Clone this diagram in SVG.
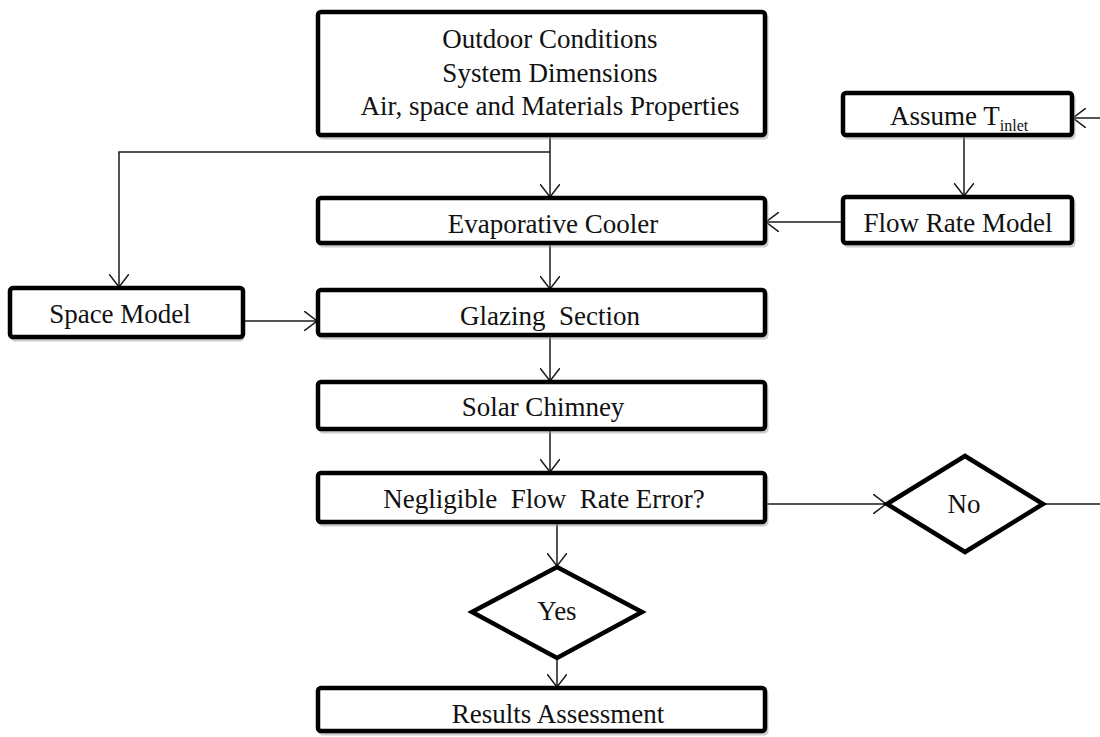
<svg xmlns="http://www.w3.org/2000/svg" width="1100" height="737" viewBox="0 0 1100 737">
  <style>
    .box { fill: #ffffff; stroke: #000000; stroke-width: 4.5; }
    .shadow { fill: none; stroke: #9a9a9a; stroke-width: 3; opacity: 0.5; }
    .lbl { font-family: "Liberation Serif", "Times New Roman", serif; font-size: 27px; fill: #111111; text-anchor: middle; }
    .sub { font-size: 16px; }
    .conn { fill: none; stroke: #1a1a1a; stroke-width: 1.5; }
  </style>
  <defs>
    <marker id="arr" viewBox="0 0 14 20" markerWidth="14" markerHeight="20" refX="13" refY="10" orient="auto" markerUnits="userSpaceOnUse">
      <path d="M0,0 L13,10 L0,20" fill="none" stroke="#1a1a1a" stroke-width="1.5"/>
    </marker>
  </defs>
  <rect width="1100" height="737" fill="#ffffff"/>

  <g id="connectors">
    <line class="conn" x1="550" y1="135" x2="550" y2="197" marker-end="url(#arr)"/>
    <path class="conn" d="M550,152 L119,152 L119,287" marker-end="url(#arr)"/>
    <line class="conn" x1="964" y1="135" x2="964" y2="196" marker-end="url(#arr)"/>
    <line class="conn" x1="843" y1="222" x2="766" y2="222" marker-end="url(#arr)"/>
    <line class="conn" x1="1100" y1="118" x2="1073" y2="118" marker-end="url(#arr)"/>
    <line class="conn" x1="550" y1="243" x2="550" y2="289" marker-end="url(#arr)"/>
    <line class="conn" x1="243" y1="321" x2="317" y2="321" marker-end="url(#arr)"/>
    <line class="conn" x1="550" y1="335" x2="550" y2="381" marker-end="url(#arr)"/>
    <line class="conn" x1="550" y1="429" x2="550" y2="472" marker-end="url(#arr)"/>
    <line class="conn" x1="557" y1="522" x2="557" y2="566" marker-end="url(#arr)"/>
    <line class="conn" x1="557" y1="658" x2="557" y2="687" marker-end="url(#arr)"/>
    <line class="conn" x1="765" y1="504" x2="886" y2="504" marker-end="url(#arr)"/>
    <line class="conn" x1="1043" y1="504" x2="1100" y2="504"/>
  </g>

  <g id="inputs">
    <rect class="shadow" x="320" y="15" width="447" height="123" rx="3"/>
    <rect class="box" x="318" y="12" width="447" height="123" rx="3"/>
    <text class="lbl" x="550" y="48">Outdoor Conditions</text>
    <text class="lbl" x="550" y="82">System Dimensions</text>
    <text class="lbl" x="550" y="115">Air, space and Materials Properties</text>
  </g>

  <g id="assume">
    <rect class="shadow" x="845" y="96" width="229" height="42" rx="3"/>
    <rect class="box" x="843" y="93" width="229" height="42" rx="3"/>
    <text class="lbl" x="890" y="125" style="text-anchor:start">Assume T<tspan class="sub" dy="6">inlet</tspan></text>
  </g>

  <g id="flowrate">
    <rect class="shadow" x="845" y="200" width="229" height="46" rx="3"/>
    <rect class="box" x="843" y="197" width="229" height="46" rx="3"/>
    <text class="lbl" x="958" y="232">Flow Rate Model</text>
  </g>

  <g id="evap">
    <rect class="shadow" x="320" y="201" width="447" height="45" rx="3"/>
    <rect class="box" x="318" y="198" width="447" height="45" rx="3"/>
    <text class="lbl" x="553" y="233">Evaporative Cooler</text>
  </g>

  <g id="space">
    <rect class="shadow" x="12" y="291" width="231" height="49" rx="3"/>
    <rect class="box" x="10" y="288" width="233" height="49" rx="3"/>
    <text class="lbl" x="120" y="323">Space Model</text>
  </g>

  <g id="glazing">
    <rect class="shadow" x="320" y="293" width="447" height="45" rx="3"/>
    <rect class="box" x="318" y="290" width="447" height="45" rx="3"/>
    <text class="lbl" x="550" y="325" xml:space="preserve">Glazing  Section</text>
  </g>

  <g id="chimney">
    <rect class="shadow" x="320" y="385" width="447" height="47" rx="3"/>
    <rect class="box" x="318" y="382" width="447" height="47" rx="3"/>
    <text class="lbl" x="543" y="416">Solar Chimney</text>
  </g>

  <g id="error">
    <rect class="shadow" x="320" y="476" width="447" height="49" rx="3"/>
    <rect class="box" x="318" y="473" width="447" height="49" rx="3"/>
    <text class="lbl" x="544" y="508" xml:space="preserve">Negligible  Flow  Rate Error?</text>
  </g>

  <g id="yes">
    <polygon class="box" points="472,612 557,567 642,612 557,658" stroke-linejoin="miter"/>
    <text class="lbl" x="557" y="620">Yes</text>
  </g>

  <g id="no">
    <polygon class="box" points="887,504 965,456 1043,504 965,552" stroke-linejoin="miter"/>
    <text class="lbl" x="964" y="513">No</text>
  </g>

  <g id="results">
    <rect class="shadow" x="320" y="691" width="447" height="43" rx="3"/>
    <rect class="box" x="318" y="688" width="447" height="43" rx="3"/>
    <text class="lbl" x="558" y="723">Results Assessment</text>
  </g>
</svg>
